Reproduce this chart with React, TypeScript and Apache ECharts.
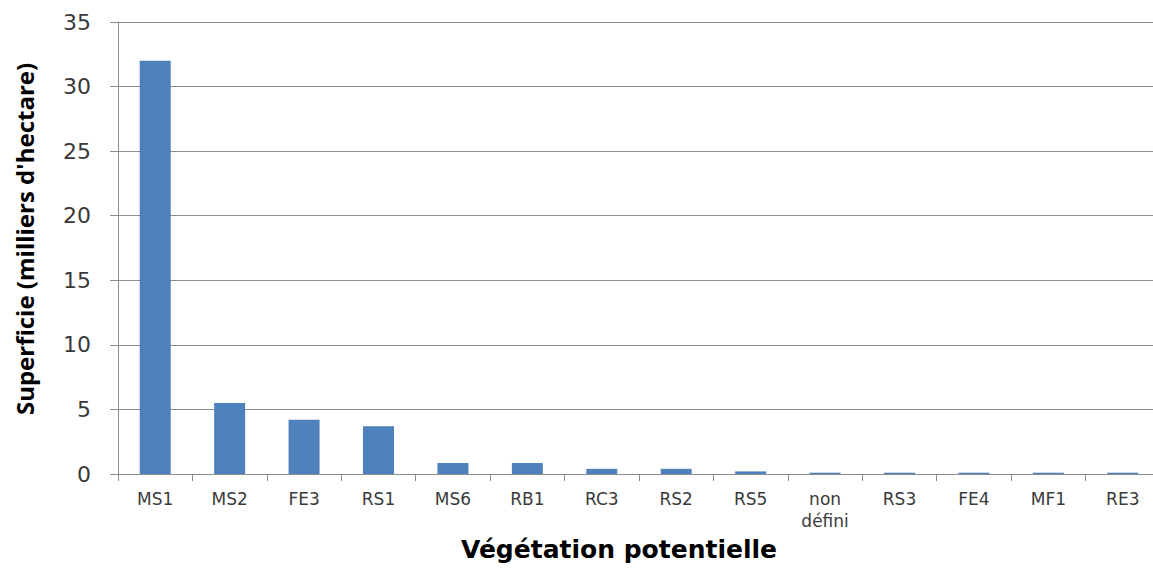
import React, { useEffect, useRef } from "react";
import * as echarts from "echarts";

const categories = ["MS1", "MS2", "FE3", "RS1", "MS6", "RB1", "RC3", "RS2", "RS5", "non\ndéfini", "RS3", "FE4", "MF1", "RE3"];
const values = [32, 5.5, 4.2, 3.7, 0.85, 0.85, 0.4, 0.4, 0.2, 0.1, 0.1, 0.1, 0.1, 0.1];
const yTicks = { min: 0, max: 35, interval: 5 };
const yTitle = "Superficie (milliers d'hectare)";
const xTitle = "Végétation potentielle";

export default function App() {
  const ref = useRef<HTMLDivElement>(null);
  useEffect(() => {
    if (!ref.current) return;
    const chart = echarts.init(ref.current, undefined, { renderer: "svg" });
    const gray = "#8c8c8c";
    chart.setOption({
      animation: false,
      backgroundColor: "#ffffff",
      grid: { left: 118, right: 5, top: 22, bottom: 95, containLabel: false },
      xAxis: {
        type: "category",
        data: categories,
        axisLine: { lineStyle: { color: gray, width: 1 } },
        axisTick: { show: true, alignWithLabel: false, length: 7, lineStyle: { color: gray } },
        axisLabel: {
          interval: 0,
          margin: 14,
          fontFamily: "DejaVu Sans",
          fontSize: 17,
          lineHeight: 22,
          color: "#3a3a3a",
        },
      },
      yAxis: {
        type: "value",
        min: yTicks.min,
        max: yTicks.max,
        interval: yTicks.interval,
        axisLine: { show: true, lineStyle: { color: gray, width: 1 } },
        axisTick: { show: true, length: 8, lineStyle: { color: gray } },
        splitLine: { show: true, lineStyle: { color: gray, width: 1 } },
        axisLabel: {
          margin: 27,
          fontFamily: "DejaVu Sans",
          fontSize: 22,
          color: "#3a3a3a",
        },
      },
      series: [
        {
          type: "bar",
          data: values,
          barWidth: 31,
          itemStyle: { color: "#4F81BD" },
        },
      ],
      graphic: [
        {
          type: "text",
          x: 24,
          y: 239,
          rotation: Math.PI / 2,
          style: {
            text: yTitle,
            fontFamily: "Open Sans",
            fontWeight: "bold",
            fontSize: 24,
            fill: "#000",
            align: "center",
            verticalAlign: "middle",
          },
        },
        {
          type: "text",
          x: 619,
          y: 549,
          style: {
            text: xTitle,
            fontFamily: "DejaVu Sans",
            fontWeight: "bold",
            fontSize: 25,
            fill: "#000",
            align: "center",
            verticalAlign: "middle",
          },
        },
      ],
    });
    return () => chart.dispose();
  }, []);
  return (
    <div style={{ position: "fixed", left: 0, top: 0, width: 1153, height: 569, overflow: "hidden", background: "#fff" }}>
      <div ref={ref} style={{ width: 1165, height: 569 }} />
    </div>
  );
}
